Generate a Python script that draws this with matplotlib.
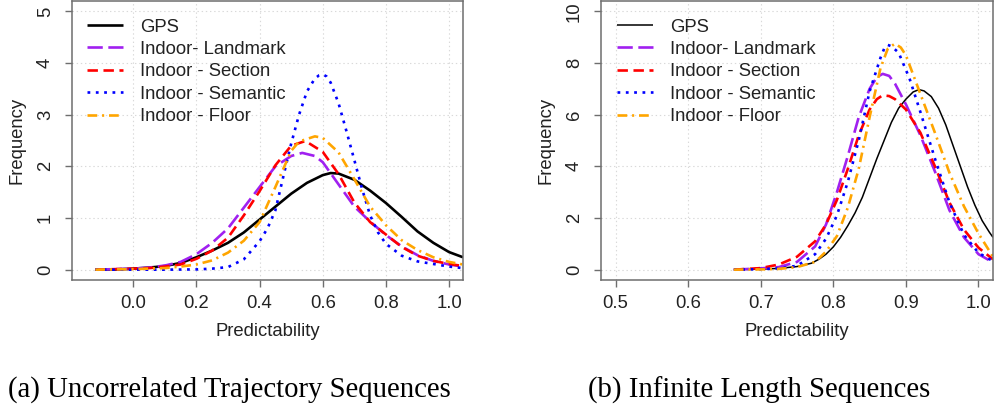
import matplotlib
matplotlib.use("Agg")
import matplotlib.pyplot as plt

plt.rcParams['font.family'] = ['Liberation Sans', 'DejaVu Sans']
plt.rcParams['lines.scale_dashes'] = False

# ---------------- data: panel (a) Uncorrelated Trajectory Sequences ----------------
a_gps_x = [-0.12, -0.05, 0.0, 0.05, 0.1, 0.15, 0.2, 0.25, 0.3, 0.35, 0.4, 0.45, 0.5, 0.55, 0.6,
           0.625, 0.65, 0.7, 0.75, 0.8, 0.85, 0.9, 0.95, 1.0, 1.044]
a_gps_y = [0.0, 0.005, 0.02, 0.04, 0.07, 0.13, 0.24, 0.37, 0.52, 0.72, 0.97, 1.22, 1.47, 1.68, 1.83,
           1.87, 1.86, 1.74, 1.53, 1.29, 1.02, 0.74, 0.52, 0.34, 0.24]

a_land_x = [-0.12, 0.0, 0.05, 0.1, 0.15, 0.2, 0.25, 0.3, 0.35, 0.4, 0.45, 0.5, 0.535, 0.575, 0.6,
            0.65, 0.7, 0.75, 0.8, 0.85, 0.9, 0.95, 1.0, 1.044]
a_land_y = [0.0, 0.02, 0.04, 0.08, 0.15, 0.3, 0.52, 0.8, 1.2, 1.6, 2.0, 2.2, 2.26, 2.2, 2.08,
            1.65, 1.22, 0.93, 0.67, 0.45, 0.28, 0.17, 0.1, 0.06]

a_sect_x = [-0.12, 0.0, 0.05, 0.1, 0.15, 0.2, 0.25, 0.3, 0.35, 0.4, 0.45, 0.5, 0.545, 0.6, 0.65,
            0.7, 0.75, 0.8, 0.85, 0.9, 0.95, 1.0, 1.044]
a_sect_y = [0.0, 0.02, 0.03, 0.06, 0.1, 0.21, 0.37, 0.62, 1.05, 1.52, 2.02, 2.4, 2.49, 2.28, 1.85,
            1.3, 0.92, 0.68, 0.44, 0.27, 0.17, 0.11, 0.07]

a_sem_x = [-0.12, 0.0, 0.1, 0.2, 0.25, 0.3, 0.35, 0.4, 0.425, 0.45, 0.475, 0.5, 0.525, 0.55, 0.575,
           0.588, 0.6, 0.612, 0.625, 0.65, 0.675, 0.7, 0.725, 0.75, 0.775, 0.8, 0.85, 0.9, 0.95,
           1.0, 1.044]
a_sem_y = [0.0, 0.0, 0.0, 0.005, 0.02, 0.05, 0.2, 0.55, 0.8, 1.15, 1.8, 2.44, 3.0, 3.45, 3.7,
           3.76, 3.78, 3.74, 3.62, 3.22, 2.68, 2.12, 1.55, 1.05, 0.72, 0.5, 0.27, 0.16, 0.11,
           0.06, 0.03]

a_floor_x = [-0.12, 0.0, 0.1, 0.15, 0.2, 0.25, 0.3, 0.35, 0.4, 0.45, 0.5, 0.525, 0.575, 0.6, 0.65,
             0.7, 0.75, 0.8, 0.85, 0.9, 0.95, 1.0, 1.044]
a_floor_y = [0.0, 0.01, 0.03, 0.06, 0.1, 0.18, 0.33, 0.56, 0.92, 1.6, 2.3, 2.48, 2.58, 2.55, 2.27,
             1.75, 1.22, 0.86, 0.57, 0.38, 0.24, 0.15, 0.1]

# ---------------- data: panel (b) Infinite Length Sequences ----------------
b_gps_x = [0.663, 0.7, 0.725, 0.75, 0.77, 0.78, 0.79, 0.8, 0.81, 0.82, 0.83, 0.84, 0.85, 0.86,
           0.87, 0.88, 0.89, 0.9, 0.91, 0.918, 0.925, 0.935, 0.945, 0.955, 0.965, 0.975, 0.985,
           0.995, 1.005, 1.015, 1.02]
b_gps_y = [0.0, 0.02, 0.05, 0.12, 0.25, 0.4, 0.6, 0.88, 1.25, 1.7, 2.2, 2.8, 3.55, 4.3,
           5.0, 5.7, 6.25, 6.6, 6.88, 6.97, 6.92, 6.7, 6.25, 5.6, 4.8, 4.0, 3.2,
           2.5, 1.9, 1.45, 1.25]

b_land_x = [0.663, 0.7, 0.725, 0.75, 0.775, 0.79, 0.805, 0.82, 0.835, 0.85, 0.86, 0.868, 0.877,
            0.885, 0.9, 0.92, 0.94, 0.96, 0.98, 1.0, 1.02]
b_land_y = [0.0, 0.05, 0.1, 0.3, 0.9, 1.75, 3.0, 4.4, 5.9, 7.0, 7.45, 7.58, 7.5,
            7.2, 6.4, 5.2, 3.8, 2.3, 1.25, 0.6, 0.28]

b_sect_x = [0.663, 0.7, 0.725, 0.75, 0.775, 0.79, 0.805, 0.82, 0.835, 0.85, 0.86, 0.868, 0.877,
            0.885, 0.9, 0.92, 0.94, 0.96, 0.98, 1.0, 1.02]
b_sect_y = [0.0, 0.06, 0.2, 0.5, 1.1, 1.75, 2.7, 3.9, 5.2, 6.2, 6.6, 6.75, 6.72,
            6.6, 6.2, 5.3, 4.0, 2.6, 1.55, 0.85, 0.4]

b_sem_x = [0.663, 0.7, 0.725, 0.75, 0.775, 0.79, 0.805, 0.82, 0.835, 0.85, 0.865, 0.87, 0.875,
           0.88, 0.89, 0.905, 0.92, 0.94, 0.96, 0.98, 1.0, 1.02]
b_sem_y = [0.0, 0.02, 0.05, 0.15, 0.6, 1.2, 2.1, 3.4, 5.0, 6.9, 8.2, 8.55, 8.7,
           8.65, 8.4, 7.4, 6.1, 4.3, 2.6, 1.35, 0.65, 0.33]

b_floor_x = [0.663, 0.7, 0.725, 0.75, 0.775, 0.79, 0.805, 0.82, 0.835, 0.85, 0.865, 0.875, 0.885,
             0.893, 0.9, 0.92, 0.94, 0.96, 0.98, 1.0, 1.02]
b_floor_y = [0.0, 0.01, 0.03, 0.1, 0.3, 0.7, 1.3, 2.4, 3.9, 5.9, 7.8, 8.55, 8.75,
             8.6, 8.3, 6.8, 5.3, 3.75, 2.45, 1.4, 0.5]

labels = ["GPS", "Indoor- Landmark", "Indoor - Section", "Indoor - Semantic", "Indoor - Floor"]
a_xticks = [0.0, 0.2, 0.4, 0.6, 0.8, 1.0]
a_yticks = [0, 1, 2, 3, 4, 5]
b_xticks = [0.5, 0.6, 0.7, 0.8, 0.9, 1.0]
b_yticks = [0, 2, 4, 6, 8, 10]
captions = ["(a) Uncorrelated Trajectory Sequences", "(b) Infinite Length Sequences"]

# ---------------- styling ----------------
colors = ["black", "#A020F0", "#FF0000", "#0000FF", "#FFA500"]
dashes = [None, (11, 4), (7.5, 4), (2, 4), (7, 3.5, 1.5, 3.5)]
FS = 13.3
W, H = 998, 409
fig = plt.figure(figsize=(W / 100, H / 100), dpi=100)

def make_axes(left_px, right_px, top_px, bottom_px):
    return fig.add_axes([left_px / W, 1 - bottom_px / H,
                         (right_px - left_px) / W, (bottom_px - top_px) / H])

ax_a = make_axes(72, 463, 1, 280)
ax_b = make_axes(601, 993, 1, 280)

panels = [
    (ax_a, [(a_gps_x, a_gps_y), (a_land_x, a_land_y), (a_sect_x, a_sect_y),
            (a_sem_x, a_sem_y), (a_floor_x, a_floor_y)],
     (-0.194, 1.044), (-0.2, 5.2), a_xticks, a_yticks, ["%.1f" % v for v in a_xticks], 1.9),
    (ax_b, [(b_gps_x, b_gps_y), (b_land_x, b_land_y), (b_sect_x, b_sect_y),
            (b_sem_x, b_sem_y), (b_floor_x, b_floor_y)],
     (0.48, 1.02), (-0.4, 10.4), b_xticks, b_yticks, ["%.1f" % v for v in b_xticks], 1.1),
]

for ax, series, xl, yl, xt, yt, xtl, gps_lw in panels:
    ax.set_xlim(*xl)
    ax.set_ylim(*yl)
    ax.set_xticks(xt)
    ax.set_xticklabels(xtl)
    ax.set_yticks(yt)
    ax.set_yticklabels([str(v) for v in yt], rotation=90, va='center')
    ax.grid(True, color='#d9d9d9', linestyle=(0, (1, 2)), linewidth=0.8)
    ax.set_axisbelow(True)
    for s in ax.spines.values():
        s.set_color('#6e6e6e')
        s.set_linewidth(1.1)
    ax.tick_params(axis='both', direction='out', length=5, width=1.0, color='#6e6e6e',
                   labelsize=FS, labelcolor='#222222')
    ax.tick_params(axis='x', pad=6)
    ax.tick_params(axis='y', pad=8)
    for i, (xs, ys) in enumerate(series):
        lw = gps_lw if i == 0 else 1.9
        line, = ax.plot(xs, ys, color=colors[i], lw=lw, label=labels[i],
                        solid_capstyle='butt', solid_joinstyle='round')
        if dashes[i] is not None:
            line.set_dashes(dashes[i])
            line.set_dash_capstyle('butt')
    ax.set_xlabel("Predictability", fontsize=FS, color='#222222')
    ax.set_ylabel("Frequency", fontsize=FS, color='#222222')
    ax.xaxis.set_label_coords(0.5, -0.185)
    ax.xaxis.label.set_verticalalignment('center')

ax_a.yaxis.set_label_coords((17 - 72) / 391, 0.5)
ax_b.yaxis.set_label_coords((546 - 601) / 392, 0.5)
for ax in (ax_a, ax_b):
    ax.yaxis.label.set_verticalalignment('center')

leg_kw = dict(loc='upper left', frameon=False, fontsize=FS, handlelength=1.95,
              handletextpad=0.92, labelspacing=0.29, borderaxespad=0, borderpad=0)
leg_a = ax_a.legend(bbox_to_anchor=(15 / 391, 0.937), **leg_kw)
leg_b = ax_b.legend(bbox_to_anchor=(16 / 392, 0.937), **leg_kw)
for leg in (leg_a, leg_b):
    for t in leg.get_texts():
        t.set_color('#222222')

fig.text(229 / W, 1 - 390 / H, captions[0], family=['Liberation Serif', 'DejaVu Serif'],
         fontsize=20.7, ha='center', va='center')
fig.text(759 / W, 1 - 390 / H, captions[1], family=['Liberation Serif', 'DejaVu Serif'],
         fontsize=20.7, ha='center', va='center')

fig.savefig("out.png", dpi=100)
